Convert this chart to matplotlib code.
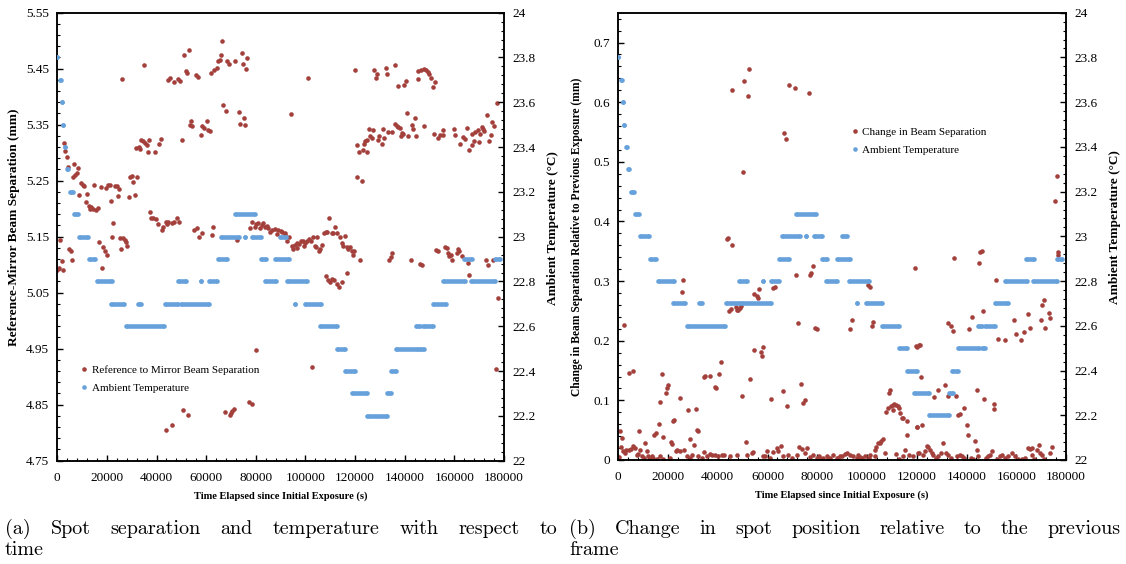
import numpy as np
import matplotlib.pyplot as plt
from matplotlib.lines import Line2D
from matplotlib.ticker import FixedLocator, MultipleLocator, FuncFormatter

RED = '#A3403C'
BLUE = '#66A1DC'

# (a) reference to mirror beam separation (mm) against elapsed time (s)
time_sep = [0, 800, 2400, 1070, 1750, 2690, 3220, 3760, 4430, 4830, 5370, 5770, 6450, 6700, 7100, 7800,
            8330, 8860, 9500, 10200, 10900, 11400, 11950, 12600, 13000, 13600, 14200, 14900, 15400, 16500,
            16900, 17600, 18000, 18500, 19200, 19500, 20100, 20500, 21200, 21600, 22000, 22560, 23400, 24000,
            24300, 24800, 25100, 25800, 26050, 26600, 27200, 27700, 28200, 28700, 29300, 29900, 30600, 31300,
            31700, 32200, 33000, 33400, 33800, 34500, 34900, 35200, 36000, 36700, 36900, 37300, 37900, 38500,
            39500, 39600, 40700, 41000, 41600, 42000, 42700, 44000, 44000,
            44750, 45550, 47200, 48800, 49450, 51200, 53100, 52100, 51700, 55800, 56600, 61940, 63280, 64220,
            64900, 65570, 65970, 66510, 68530, 69200, 71620, 74300, 76310, 74970, 76050,
            66900, 67990, 73230, 75240, 73630, 75640, 53900, 54400, 53600, 58180, 59250, 60200, 60600, 61540,
            57780, 50100,
            44100, 44750, 46360, 47200, 48100, 49050, 55200, 56200, 57250, 58180, 62880, 62200, 72560,
            78600, 77660, 79670, 81010, 82360, 83700, 85050, 86390, 87730, 89080, 90420, 91760,
            80000, 81500, 83000, 84300, 85700, 88400,
            79940, 46100, 50800, 52500, 67590, 69600, 70000, 70540, 71080, 77260, 78330,
            101200, 94000, 119970, 127750, 128700, 128430, 132450, 132860,
            120900, 121600, 123070, 123600, 124000, 124680, 124950, 125620, 127100, 126000, 126700, 129380,
            129780, 130720, 131390, 131660, 133130, 134880, 120700, 122700,
            90150, 91800, 92700, 93500, 94450, 95100, 95800, 96500, 96700, 97500, 98100, 98900, 99400, 99950,
            100500, 101600, 102100, 102900, 103900, 104300, 104800, 105600, 105900, 106700, 107500, 108300,
            108800, 109600, 110600, 111200, 111900, 112850, 113900, 114700, 115300, 115950, 116600, 117300,
            117960, 118600, 119300, 119600, 122100,
            108300, 109200, 109900, 110600, 111500, 112850, 113500, 114600, 116600, 102800,
            133800, 134400, 135000,
            136100, 137400, 139800, 140500, 145200, 146600, 145500, 147900, 148600, 149300, 149900, 150600,
            152200, 151300,
            136230, 137030, 137400, 138100, 138800, 138500, 139500, 141100, 141500, 143100, 143500, 144200,
            144600, 147700, 151800, 153500, 154200, 155300, 155600, 159900, 160300, 162400, 163600, 164300,
            165000, 165900, 167000, 167300, 168100, 168300, 169400, 170100, 170500, 171000, 171700, 172100,
            173000, 174100, 174600, 175050, 176100, 177200,
            142600, 146100, 147000, 152600, 153300, 156300, 156900, 157300, 158000, 158700, 159200, 161000,
            161600, 161900, 162900, 165300, 165900, 172600, 173700, 175700, 177700, 176600]
sep_mm = [5.090, 5.094, 5.090, 5.145, 5.106, 5.317, 5.303, 5.292, 5.275, 5.128, 5.125, 5.108, 5.257, 5.280,
          5.260, 5.263, 5.272, 5.225, 5.245, 5.242, 5.240, 5.212, 5.226, 5.205, 5.200, 5.203, 5.200, 5.243,
          5.198, 5.202, 5.140, 5.239, 5.094, 5.132, 5.125, 5.237, 5.118, 5.243, 5.243, 5.213, 5.149, 5.174,
          5.240, 5.240, 5.222, 5.235, 5.148, 5.128, 5.432, 5.147, 5.145, 5.140, 5.133, 5.221, 5.256, 5.258,
          5.248, 5.225, 5.309, 5.256, 5.310, 5.306, 5.323, 5.320, 5.456, 5.318, 5.313, 5.301, 5.323, 5.194,
          5.183, 5.183, 5.301, 5.181, 5.172, 5.316, 5.325, 5.162, 5.168, 5.177, 4.805,
          5.430, 5.433, 5.427, 5.431, 5.428, 5.475, 5.484, 5.442, 5.445, 5.438, 5.435, 5.442, 5.448, 5.452,
          5.463, 5.466, 5.475, 5.500, 5.464, 5.458, 5.464, 5.478, 5.469, 5.458, 5.449,
          5.385, 5.374, 5.372, 5.362, 5.351, 5.349, 5.356, 5.347, 5.350, 5.347, 5.344, 5.356, 5.341, 5.338,
          5.332, 5.322,
          5.173, 5.177, 5.174, 5.177, 5.184, 5.177, 5.162, 5.165, 5.150, 5.156, 5.167, 5.153, 5.144,
          5.177, 5.166, 5.168, 5.174, 5.171, 5.168, 5.165, 5.162, 5.164, 5.162, 5.158, 5.156,
          5.172, 5.165, 5.175, 5.170, 5.158, 5.155,
          4.948, 4.814, 4.840, 4.831, 4.837, 4.831, 4.835, 4.839, 4.843, 4.855, 4.852,
          5.434, 5.369, 5.447, 5.447, 5.441, 5.433, 5.452, 5.441,
          5.313, 5.301, 5.305, 5.315, 5.321, 5.301, 5.323, 5.343, 5.341, 5.329, 5.326, 5.323,
          5.329, 5.315, 5.343, 5.327, 5.337, 5.337, 5.256, 5.250,
          5.161, 5.153, 5.142, 5.149, 5.134, 5.128, 5.136, 5.130, 5.139, 5.137, 5.142, 5.142, 5.134, 5.139,
          5.142, 5.146, 5.142, 5.149, 5.134, 5.132, 5.149, 5.125, 5.128, 5.136, 5.156, 5.159,
          5.159, 5.184, 5.157, 5.156, 5.167, 5.156, 5.149, 5.139, 5.134, 5.151, 5.132, 5.128,
          5.132, 5.125, 5.118, 5.125, 5.108,
          5.079, 5.073, 5.069, 5.075, 5.073, 5.065, 5.061, 5.069, 5.086, 4.918,
          5.108, 5.113, 5.120,
          5.457, 5.420, 5.421, 5.428, 5.446, 5.447, 5.431, 5.450, 5.448, 5.444, 5.441, 5.433,
          5.427, 5.418,
          5.352, 5.347, 5.346, 5.344, 5.335, 5.329, 5.333, 5.371, 5.330, 5.349, 5.343, 5.362,
          5.330, 5.347, 5.333, 5.327, 5.332, 5.341, 5.331, 5.343, 5.331, 5.315, 5.328, 5.325,
          5.345, 5.305, 5.314, 5.333, 5.321, 5.337, 5.340, 5.319, 5.334, 5.346, 5.343, 5.338,
          5.368, 5.321, 5.332, 5.355, 5.347, 5.388,
          5.109, 5.101, 5.099, 5.126, 5.124, 5.132, 5.130, 5.121, 5.115, 5.118, 5.109, 5.120,
          5.128, 5.125, 5.115, 5.103, 5.082, 5.108, 5.100, 5.109, 5.040, 4.914]

# (b) change in beam separation relative to previous exposure (mm)
time_chg = [45600, 50500, 52000, 52500, 50000, 43600, 44000, 45800, 26100, 25700, 2300, 4300, 5800, 17600,
            24800, 16900, 19000, 19600, 20100, 16300, 14500, 15000, 21800, 22500, 8300, 800, 1340, 28100,
            31200, 31800, 32200, 34400, 35000, 37000, 38900, 39300, 40500, 41400, 49600, 53100, 54700, 57200,
            57600, 58200, 51200, 28800, 30600, 10700, 11500, 17800, 21000, 21700,
            44500, 45300, 47600, 47200, 48200, 48900, 49300, 54700, 55600, 56000, 56600,
            300, 1100, 2000, 2700, 3200, 4300, 5100, 6000, 6700, 7500, 8000, 8700, 9600, 10500, 11800, 12700,
            13400, 14100, 15400, 16800, 18100, 20800, 23000, 23800, 24800, 26500, 27500, 28800, 29800, 32200,
            33500, 34300, 35500, 36800, 37500, 38900, 40200, 41500, 42600, 44900, 47600, 51600, 53600, 54300,
            58300,
            68800, 70900, 76500, 66600, 67300, 71500, 77100, 77400, 78100, 119300, 72400, 79100, 79800, 93100,
            93800, 102000, 102500, 100300, 101000, 61300, 66400, 68000, 73500, 74400, 75100, 108700, 109300,
            107600, 108600, 109500, 110300, 111000, 111700, 112300, 113000, 110600, 113300, 114000, 114600,
            116000, 116200, 120200, 120000, 121000, 103200, 103800, 104500, 105100, 105800, 106400, 62300,
            63000,
            59000, 59700, 61000, 62300, 63700, 64300, 65300, 66400, 68400, 69700, 71700, 72800, 73800, 75100,
            75800, 78400, 79800, 81100, 82500, 83800, 85100, 86500, 87800, 89100, 91200, 92100, 93200, 94500,
            95900, 97200, 99200, 100600, 101200, 103200, 107200, 111700, 113000, 114600, 115300, 117000,
            118400, 120700, 77000, 80500, 84500, 88500, 90000, 96500, 98000,
            176300, 175600, 176900, 176700, 145400, 146100, 144900, 135100, 151900, 171000, 170400, 173100,
            173700, 170000, 171700, 146800, 141000, 142100, 132700, 133800, 134400, 152800, 155500, 158900,
            160000, 162000, 163000, 164600, 165500, 119700, 121300, 121700, 127100, 128400, 131400, 132400,
            135700, 144100, 147200, 136700, 137400, 139100, 140100, 140500, 143400, 144100, 120000, 122300,
            151100, 151200,
            120600, 122650, 123300, 124000, 124700, 125300, 126000, 126700, 127600, 128700, 129700, 130700,
            131600, 132700, 133800, 136100, 137400, 138100, 139100, 141800, 142800, 144800, 147700, 148500,
            149500, 150400, 152100, 153500, 154400, 155500, 156800, 158400, 159500, 160800, 162200, 163500,
            164600, 165500, 166500, 166200, 167300, 168200, 169200, 169600, 170300, 171300, 173600, 174300]
chg_mm = [0.621, 0.635, 0.610, 0.655, 0.483, 0.371, 0.372, 0.360, 0.302, 0.282, 0.226, 0.146, 0.150, 0.145,
          0.104, 0.098, 0.112, 0.120, 0.126, 0.060, 0.042, 0.046, 0.065, 0.067, 0.048, 0.049, 0.037, 0.083,
          0.085, 0.051, 0.048, 0.139, 0.141, 0.141, 0.123, 0.121, 0.144, 0.164, 0.108, 0.135, 0.185, 0.181,
          0.175, 0.190, 0.030, 0.036, 0.025, 0.028, 0.015, 0.038, 0.030, 0.026,
          0.250, 0.254, 0.252, 0.256, 0.252, 0.255, 0.258, 0.278, 0.275, 0.271, 0.286,
          0.005, 0.021, 0.015, 0.012, 0.017, 0.016, 0.019, 0.023, 0.020, 0.008, 0.010, 0.017, 0.006, 0.003,
          0.006, 0.002, 0.006, 0.003, 0.002, 0.006, 0.002, 0.003, 0.015, 0.017, 0.015, 0.017, 0.006, 0.003,
          0.008, 0.006, 0.004, 0.013, 0.006, 0.010, 0.009, 0.008, 0.006, 0.009, 0.008, 0.007, 0.008, 0.008,
          0.011, 0.013, 0.006,
          0.628, 0.623, 0.615, 0.549, 0.538, 0.311, 0.311, 0.314, 0.326, 0.322, 0.229, 0.222, 0.220, 0.220,
          0.234, 0.224, 0.232, 0.293, 0.290, 0.103, 0.115, 0.090, 0.127, 0.096, 0.100, 0.113, 0.118,
          0.080, 0.087, 0.090, 0.093, 0.094, 0.093, 0.090, 0.087, 0.084, 0.079, 0.070, 0.070,
          0.065, 0.042, 0.056, 0.190, 0.192, 0.016, 0.021, 0.028, 0.029, 0.032, 0.035, 0.288,
          0.290,
          0.006, 0.015, 0.003, 0.013, 0.020, 0.015, 0.023, 0.006, 0.009, 0.004, 0.009, 0.021, 0.019, 0.012,
          0.020, 0.009, 0.003, 0.004, 0.003, 0.006, 0.004, 0.009, 0.003, 0.006, 0.010, 0.012, 0.009, 0.006,
          0.003, 0.005, 0.007, 0.003, 0.008, 0.006, 0.011, 0.010, 0.002, 0.006, 0.017, 0.009,
          0.006, 0.012, 0.005, 0.007, 0.002, 0.004, 0.006, 0.008, 0.004,
          0.476, 0.434, 0.348, 0.344, 0.348, 0.351, 0.331, 0.339, 0.302, 0.268, 0.260, 0.246,
          0.238, 0.234, 0.221, 0.250, 0.220, 0.239, 0.230, 0.224, 0.217, 0.203, 0.202, 0.235,
          0.211, 0.202, 0.215, 0.244, 0.222, 0.191, 0.193, 0.139, 0.105, 0.118, 0.125, 0.107,
          0.107, 0.117, 0.103, 0.075, 0.077, 0.088, 0.058, 0.042, 0.032, 0.017, 0.056, 0.059,
          0.085, 0.094,
          0.012, 0.009, 0.015, 0.023, 0.021, 0.016, 0.011, 0.009, 0.003, 0.006, 0.012, 0.029,
          0.012, 0.009, 0.004, 0.006, 0.009, 0.006, 0.003, 0.004, 0.001, 0.006, 0.003, 0.006,
          0.009, 0.015, 0.002, 0.006, 0.009, 0.003, 0.006, 0.012, 0.006, 0.002, 0.001, 0.003,
          0.020, 0.019, 0.020, 0.009, 0.001, 0.017, 0.025, 0.012, 0.009, 0.001, 0.012, 0.022]

# ambient temperature (deg C): runs of equal readings, first and last time of each run
temp_start = [0, 900, 1800, 2400, 3100, 3800, 5000, 6800, 8600, 12600, 15900, 21800, 27600, 32600,
              43200, 49700, 48600, 58000, 61300, 64600, 65900, 75600, 78600, 71600, 81900, 83700, 87800,
              89900, 92700, 95800, 99700, 106000, 112700, 116000, 118800, 124800, 132800, 134300, 136500,
              146100, 144500, 147400, 151400, 155500, 166600, 163900, 176400]
temp_end = [0, 1400, 1800, 2400, 3300, 4400, 6300, 8400, 12200, 15300, 22200, 27000, 42800, 33700,
            48800, 61200, 51700, 58000, 64500, 68500, 73200, 75600, 82000, 79600, 84000, 88000, 93200,
            92100, 100800, 95800, 106200, 112900, 116100, 120000, 124900, 133000, 134400, 136500, 145200,
            147600, 146300, 151500, 156500, 164200, 176400, 167000, 178500]
temp_level = [23.8, 23.7, 23.6, 23.5, 23.4, 23.3, 23.2, 23.1, 23.0, 22.9, 22.8, 22.7, 22.6, 22.7,
              22.7, 22.7, 22.8, 22.8, 22.8, 22.9, 23.0, 23.0, 23.0, 23.1, 22.9, 22.8, 22.9,
              23.0, 22.8, 22.7, 22.7, 22.6, 22.5, 22.4, 22.3, 22.2, 22.3, 22.4, 22.5,
              22.5, 22.6, 22.6, 22.7, 22.8, 22.8, 22.9, 22.9]

TICK_FONT = 'Liberation Serif'
MS = 3.3


def fmt_g(x, pos):
    return f'{round(x, 3):g}'


def draw_temp(ax2):
    for s, e, lv in zip(temp_start, temp_end, temp_level):
        ax2.plot([s, e], [lv, lv], color=BLUE, lw=MS, marker='o', ms=MS, mew=0,
                 solid_capstyle='butt', zorder=3)
    ax2.set_ylim(22, 24)
    ax2.yaxis.set_major_locator(MultipleLocator(0.2))
    ax2.yaxis.set_minor_locator(MultipleLocator(0.04))
    ax2.yaxis.set_major_formatter(FuncFormatter(fmt_g))


def style_axes(ax, ax2):
    for a in (ax, ax2):
        for sp in a.spines.values():
            sp.set_linewidth(1.1)
    ax.tick_params(which='both', direction='in', labelsize=9.5, pad=6, right=False, top=False)
    ax.tick_params(axis='x', pad=8)
    ax.tick_params(which='major', length=4, width=1)
    ax.tick_params(which='minor', length=2.5, width=0.8)
    ax2.tick_params(which='both', direction='in', labelsize=9.5, pad=6)
    ax2.tick_params(which='major', length=4, width=1)
    ax2.tick_params(which='minor', length=2.5, width=0.8)
    for lab in ax.get_xticklabels() + ax.get_yticklabels() + ax2.get_yticklabels():
        lab.set_fontfamily(TICK_FONT)
    ax.set_xlim(0, 180000)
    ax.xaxis.set_major_locator(MultipleLocator(20000))
    ax.xaxis.set_minor_locator(MultipleLocator(4000))
    ax.set_xlabel('Time Elapsed since Initial Exposure (s)', fontsize=7.5, fontweight='bold',
                  fontfamily=TICK_FONT)
    ax.xaxis.set_label_coords(0.5, -0.068)


def justify(fig, lines, x0, x1, y0, dy, size):
    renderer = fig.canvas.get_renderer()
    W = fig.bbox.width
    for i, line in enumerate(lines):
        words = line.split()
        texts = [fig.text(0, y0 - i * dy, w, fontsize=size, fontfamily='cmr10', va='baseline')
                 for w in words]
        widths = [t.get_window_extent(renderer).width for t in texts]
        if i < len(lines) - 1 and len(words) > 1:
            gap = (x1 - x0 - sum(widths)) / (len(words) - 1)
        else:
            gap = size * 100 / 72 * 0.33
        x = x0
        for t, w in zip(texts, widths):
            t.set_x(x / W)
            x += w + gap


fig = plt.figure(figsize=(11.26, 5.64), dpi=100)

# panel (a)
axa = fig.add_axes([57.3 / 1126, 103.3 / 564, 446.7 / 1126, 448 / 564])
axa2 = axa.twinx()
axa.plot(time_sep, sep_mm, 'o', color=RED, ms=MS, mew=0, zorder=2)
axa.set_ylim(4.75, 5.55)
axa.yaxis.set_major_locator(FixedLocator([4.75 + 0.1 * i for i in range(9)]))
axa.yaxis.set_minor_locator(MultipleLocator(0.02, offset=0.01))
axa.yaxis.set_major_formatter(FuncFormatter(lambda x, p: f'{x:.2f}'))
draw_temp(axa2)
style_axes(axa, axa2)
axa.set_ylabel('Reference-Mirror Beam Separation (mm)', fontsize=9.5, fontweight='bold',
               fontfamily=TICK_FONT)
axa.yaxis.set_label_coords(-0.083, 0.52)
axa2.set_ylabel('Ambient Temperature (\u00b0C)', fontsize=9.5, fontweight='bold',
                fontfamily=TICK_FONT, rotation=90)
axa2.yaxis.set_label_coords(1.096, 0.52)
hand = [Line2D([], [], ls='', marker='o', ms=MS, mew=0, color=RED),
        Line2D([], [], ls='', marker='o', ms=MS, mew=0, color=BLUE)]
axa2.legend(hand, ['Reference to Mirror Beam Separation', 'Ambient Temperature'],
            loc='upper left', bbox_to_anchor=(0.042, 0.225), frameon=False, borderpad=0,
            handlelength=0.5, handletextpad=0.4, labelspacing=0.75,
            prop={'family': TICK_FONT, 'size': 8})

# panel (b)
axb = fig.add_axes([618.3 / 1126, 104 / 564, 447.7 / 1126, 447.3 / 564])
axb2 = axb.twinx()
axb.plot(time_chg, chg_mm, 'o', color=RED, ms=MS, mew=0, zorder=2)
axb.set_ylim(0, 0.75)
axb.yaxis.set_major_locator(MultipleLocator(0.1))
axb.yaxis.set_minor_locator(MultipleLocator(0.02))
axb.yaxis.set_major_formatter(FuncFormatter(fmt_g))
draw_temp(axb2)
style_axes(axb, axb2)
axb.set_ylabel('Change in Beam Separation Relative to Previous Exposure (mm)', fontsize=8.3,
               fontweight='bold', fontfamily=TICK_FONT)
axb.yaxis.set_label_coords(-0.079, 0.5)
axb2.set_ylabel('Ambient Temperature (\u00b0C)', fontsize=9.5, fontweight='bold',
                fontfamily=TICK_FONT, rotation=90)
axb2.yaxis.set_label_coords(1.096, 0.52)
axb2.legend(hand, ['Change in Beam Separation', 'Ambient Temperature'],
            loc='upper left', bbox_to_anchor=(0.51, 0.757), frameon=False, borderpad=0,
            handlelength=0.5, handletextpad=0.4, labelspacing=0.75,
            prop={'family': TICK_FONT, 'size': 8})

justify(fig, ['(a) Spot separation and temperature with respect to', 'time'],
        5, 557, 30 / 564, 21 / 564, 14.5)
justify(fig, ['(b) Change in spot position relative to the previous', 'frame'],
        569, 1121, 30 / 564, 21 / 564, 14.5)

fig.savefig('out.png', dpi=100)
